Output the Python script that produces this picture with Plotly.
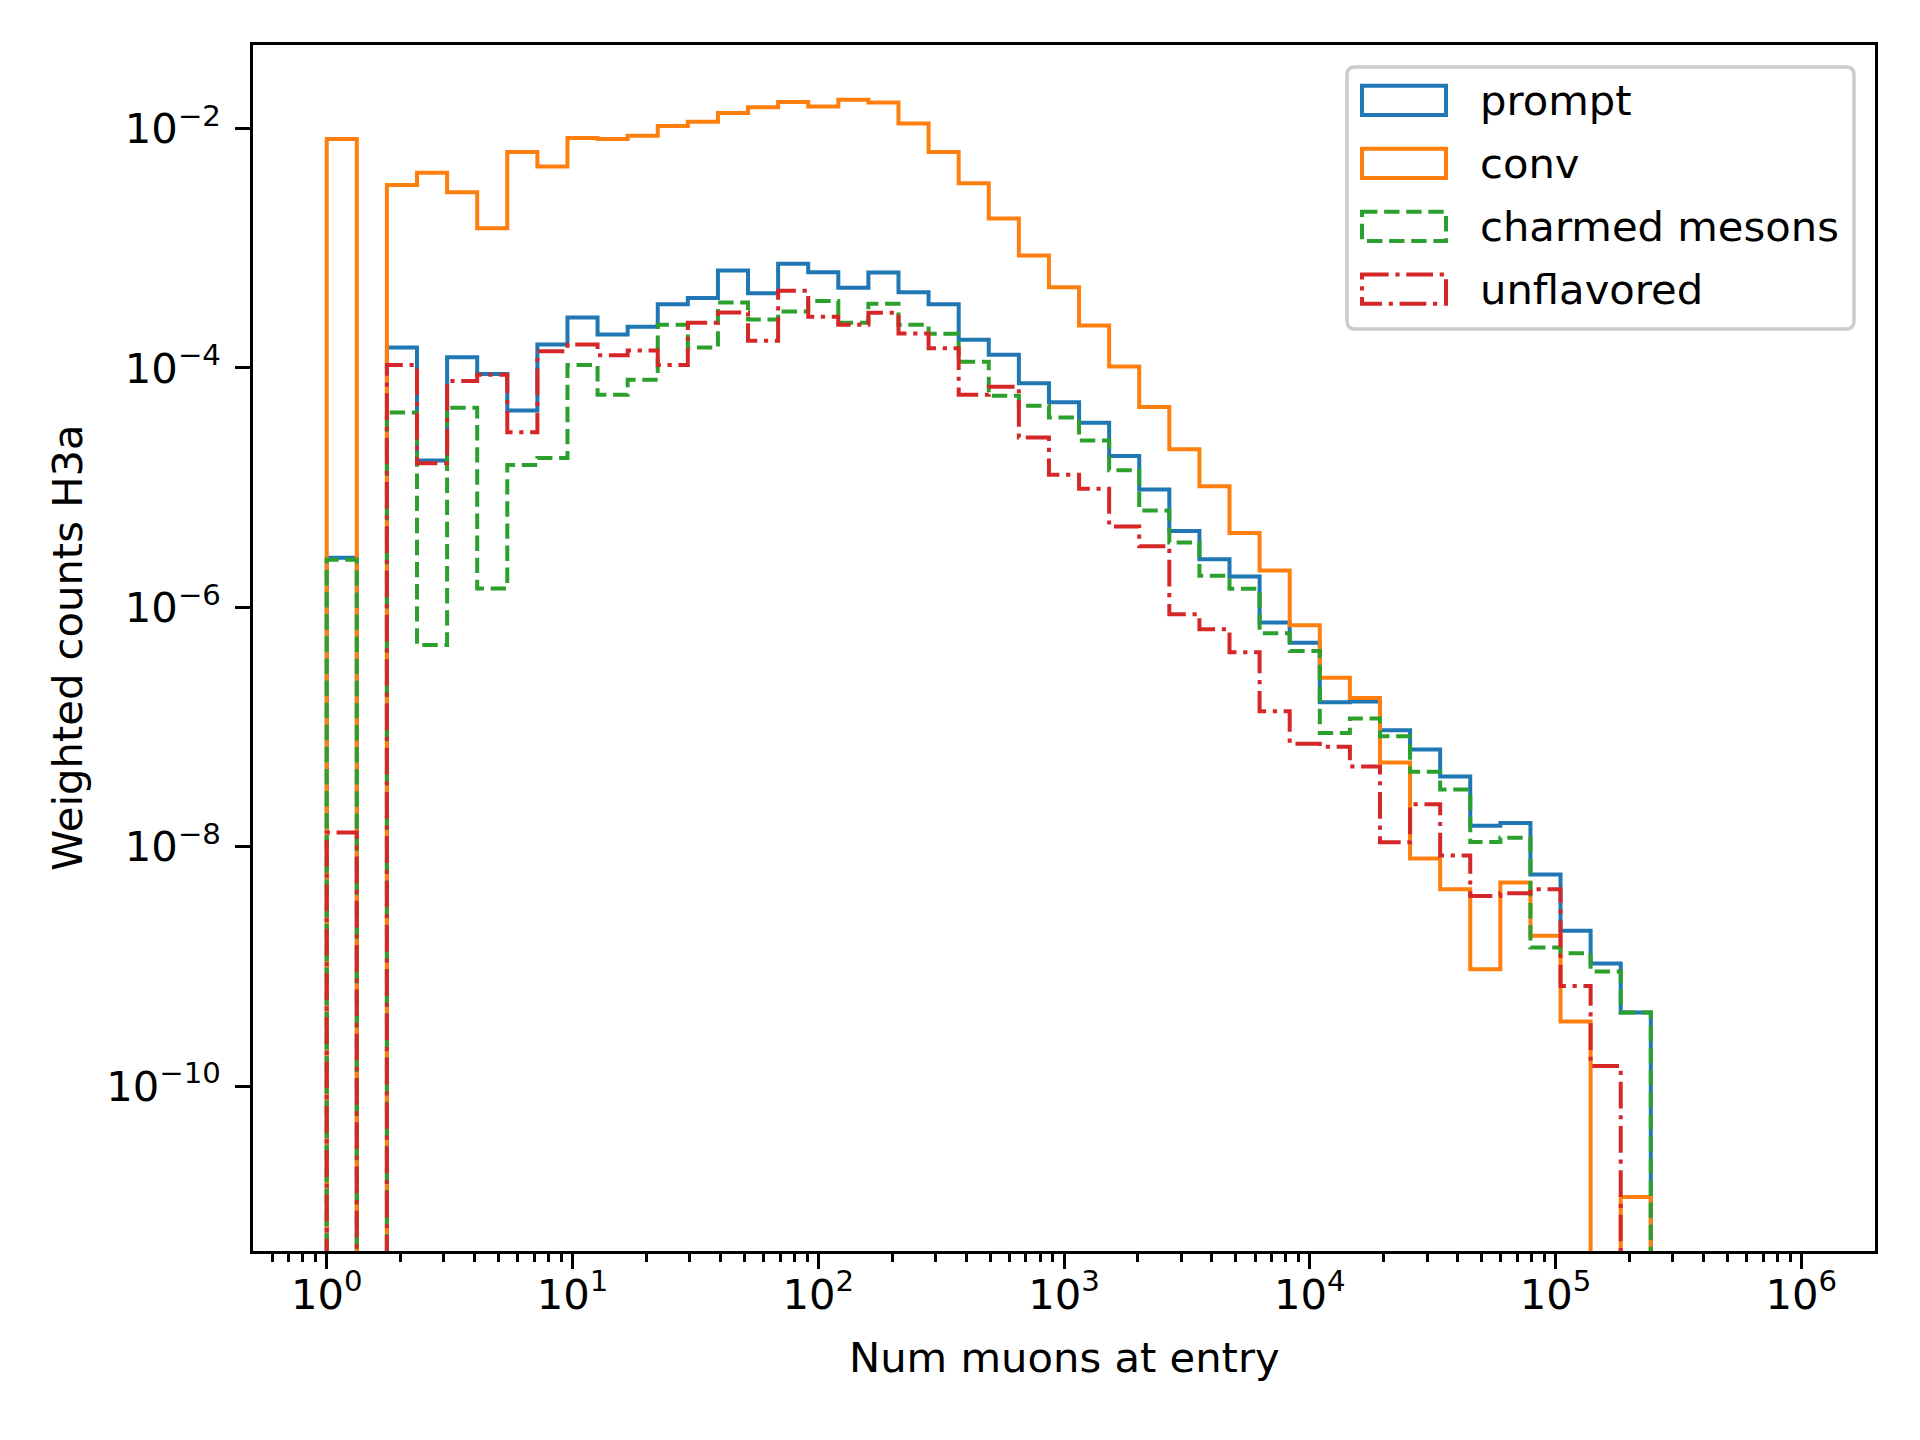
import numpy as np
import plotly.graph_objects as go

# ---------------- data ----------------
# 49 logarithmic bins between 1 and 1e6 muons
bin_edges = np.logspace(0, 6, 50)

prompt = [2.6e-6, 0, 1.48e-4, 1.69e-5, 1.23e-4, 8.9e-5, 4.41e-5, 1.57e-4, 2.64e-4, 1.90e-4,
          2.21e-4, 3.41e-4, 3.85e-4, 6.52e-4, 4.22e-4, 7.42e-4, 6.32e-4, 4.69e-4, 6.28e-4, 4.29e-4,
          3.41e-4, 1.72e-4, 1.29e-4, 7.46e-5, 5.18e-5, 3.48e-5, 1.84e-5, 9.65e-6, 4.34e-6, 2.53e-6,
          1.81e-6, 7.48e-7, 5.08e-7, 1.61e-7, 1.64e-7, 9.42e-8, 6.49e-8, 3.87e-8, 1.50e-8, 1.58e-8,
          5.87e-9, 1.99e-9, 1.06e-9, 4.13e-10, 0, 0, 0, 0, 0]

conv = [8.2e-3, 0, 3.37e-3, 4.27e-3, 2.94e-3, 1.47e-3, 6.38e-3, 4.82e-3, 8.33e-3, 8.2e-3,
        8.72e-3, 1.05e-2, 1.14e-2, 1.35e-2, 1.51e-2, 1.67e-2, 1.53e-2, 1.74e-2, 1.65e-2, 1.10e-2,
        6.38e-3, 3.50e-3, 1.77e-3, 8.70e-4, 4.73e-4, 2.26e-4, 1.03e-4, 4.73e-5, 2.10e-5, 1.03e-5,
        4.18e-6, 2.03e-6, 7.1e-7, 2.59e-7, 1.75e-7, 5.06e-8, 8.0e-9, 4.43e-9, 9.5e-10, 5.04e-9,
        1.81e-9, 3.47e-10, 0, 1.19e-11, 0, 0, 0, 0, 0]

charmed_mesons = [2.5e-6, 0, 4.25e-5, 4.85e-7, 4.65e-5, 1.44e-6, 1.55e-5, 1.77e-5, 1.06e-4, 5.98e-5,
                  7.98e-5, 2.30e-4, 1.48e-4, 3.52e-4, 2.54e-4, 2.96e-4, 3.63e-4, 2.39e-4, 3.44e-4, 2.30e-4,
                  1.93e-4, 1.13e-4, 5.85e-5, 4.83e-5, 3.85e-5, 2.48e-5, 1.40e-5, 6.44e-6, 3.48e-6, 1.84e-6,
                  1.43e-6, 6.09e-7, 4.33e-7, 8.93e-8, 1.18e-7, 8.41e-8, 4.24e-8, 3.01e-8, 1.10e-8, 1.19e-8,
                  1.44e-9, 1.29e-9, 9.1e-10, 4.13e-10, 0, 0, 0, 0, 0]

unflavored = [1.32e-8, 0, 1.06e-4, 1.60e-5, 7.8e-5, 8.8e-5, 2.90e-5, 1.38e-4, 1.57e-4, 1.28e-4,
              1.40e-4, 1.06e-4, 2.39e-4, 2.91e-4, 1.69e-4, 4.42e-4, 2.68e-4, 2.30e-4, 2.89e-4, 1.94e-4,
              1.46e-4, 5.98e-5, 6.97e-5, 2.63e-5, 1.28e-5, 9.8e-6, 4.75e-6, 3.25e-6, 8.77e-7, 6.57e-7,
              4.23e-7, 1.36e-7, 7.28e-8, 6.85e-8, 4.68e-8, 1.09e-8, 2.27e-8, 8.45e-9, 3.89e-9, 4.10e-9,
              4.43e-9, 6.87e-10, 1.48e-10, 0, 0, 0, 0, 0, 0]

series_names = ["prompt", "conv", "charmed mesons", "unflavored"]
series_values = [prompt, conv, charmed_mesons, unflavored]
series_colors = ["#1f77b4", "#ff7f0e", "#2ca02c", "#d62728"]
series_dash = ["solid", "solid", "15.4px,6.7px", "26.7px,6.7px,4.2px,6.7px"]

x_tick_vals = [1, 10, 100, 1e3, 1e4, 1e5, 1e6]
x_tick_text = ["10<sup>0</sup>", "10<sup>1</sup>", "10<sup>2</sup>", "10<sup>3</sup>",
               "10<sup>4</sup>", "10<sup>5</sup>", "10<sup>6</sup>"]
x_minor_vals = [m * 10.0 ** k for k in range(-1, 6) for m in range(2, 10)
                if 10 ** -0.3 < m * 10.0 ** k < 10 ** 6.3]
y_tick_vals = [1e-10, 1e-8, 1e-6, 1e-4, 1e-2]
y_tick_text = ["10<sup>\u221210</sup>", "10<sup>\u22128</sup>", "10<sup>\u22126</sup>",
               "10<sup>\u22124</sup>", "10<sup>\u22122</sup>"]

x_title = "Num muons at entry"
y_title = "Weighted counts H3a"

# ---------------- figure geometry ----------------
W, H = 1920, 1440
OFF = 8                      # page body margin of the html page
SL, ST, SR, SB = 253, 45, 1875, 1251   # wanted plot area on screen
ML, MT = SL - OFF, ST - OFF
MR, MB = W - (SR - OFF), H - (SB - OFF)
PW, PH = SR - SL, SB - ST
FONT = "DejaVu Sans"
FS = 41.7
LW = 4.0


def px2x(px):
    return (px - SL) / PW


def px2y(py):
    return (SB - py) / PH


def step_path(edges, values, floor=1e-30):
    xs, ys = [edges[0]], [floor]
    for i, v in enumerate(values):
        vv = v if v > 0 else floor
        xs += [edges[i], edges[i + 1]]
        ys += [vv, vv]
    xs.append(edges[-1])
    ys.append(floor)
    return xs, ys


fig = go.Figure()
for name, vals, col, dash in zip(series_names, series_values, series_colors, series_dash):
    xs, ys = step_path(bin_edges, vals)
    fig.add_trace(go.Scatter(x=xs, y=ys, mode="lines", name=name, showlegend=False,
                             line=dict(color=col, width=LW, dash=dash, simplify=False)))

axis_common = dict(
    type="log", showgrid=False, zeroline=False,
    showline=True, linewidth=3.3, linecolor="black", mirror=True,
    ticks="outside", ticklen=14.6, tickwidth=3.3, tickcolor="black",
    tickfont=dict(family=FONT, size=FS, color="black"),
    tickmode="array",
)

fig.update_xaxes(**axis_common, range=[-0.3, 6.3], tickvals=x_tick_vals, ticktext=x_tick_text,
                 ticklabelstandoff=-10,
                 minor=dict(tickmode="array", tickvals=x_minor_vals, ticks="outside",
                            ticklen=8.3, tickwidth=2.5, tickcolor="black", showgrid=False))
fig.update_yaxes(**axis_common, range=[-11.376, -1.302], tickvals=y_tick_vals, ticktext=y_tick_text,
                 ticklabelstandoff=6)

annotations = [
    dict(text=x_title, x=0.5, y=px2y(1357), xref="paper", yref="paper",
         xanchor="center", yanchor="middle", showarrow=False,
         font=dict(family=FONT, size=FS, color="black")),
    dict(text=y_title, x=px2x(67), y=0.5, xref="paper", yref="paper", textangle=-90,
         xanchor="center", yanchor="middle", showarrow=False,
         font=dict(family=FONT, size=FS, color="black")),
]

# ---------------- legend (matplotlib style) ----------------
shapes = []
lx0, lx1, ly0, ly1 = 1347, 1854, 67, 329
r = 8
rx, ry = r / PW, r / PH
X0, X1, Y0, Y1 = px2x(lx0), px2x(lx1), px2y(ly0), px2y(ly1)
path = (f"M {X0+rx},{Y0} L {X1-rx},{Y0} Q {X1},{Y0} {X1},{Y0-ry} "
        f"L {X1},{Y1+ry} Q {X1},{Y1} {X1-rx},{Y1} L {X0+rx},{Y1} "
        f"Q {X0},{Y1} {X0},{Y1+ry} L {X0},{Y0-ry} Q {X0},{Y0} {X0+rx},{Y0} Z")
shapes.append(dict(type="path", path=path, xref="paper", yref="paper",
                   line=dict(color="#cccccc", width=3.5), fillcolor="rgba(255,255,255,0.8)",
                   layer="above"))
row_centers = [100.3, 163.3, 226.3, 289.2]
for name, col, dash, cy in zip(series_names, series_colors, series_dash, row_centers):
    shapes.append(dict(type="rect", xref="paper", yref="paper",
                       x0=px2x(1362), x1=px2x(1446), y0=px2y(cy - 14.6), y1=px2y(cy + 14.6),
                       line=dict(color=col, width=LW, dash=dash), fillcolor="rgba(0,0,0,0)",
                       layer="above"))
    annotations.append(dict(text=name, x=px2x(1478), y=px2y(cy), xref="paper", yref="paper",
                            xanchor="left", yanchor="middle", showarrow=False,
                            font=dict(family=FONT, size=FS, color="black")))

fig.update_layout(
    width=W, height=H,
    margin=dict(l=ML, r=MR, t=MT, b=MB, autoexpand=False),
    paper_bgcolor="white", plot_bgcolor="white",
    showlegend=False,
    shapes=shapes, annotations=annotations,
)

fig.write_html("out.html")
